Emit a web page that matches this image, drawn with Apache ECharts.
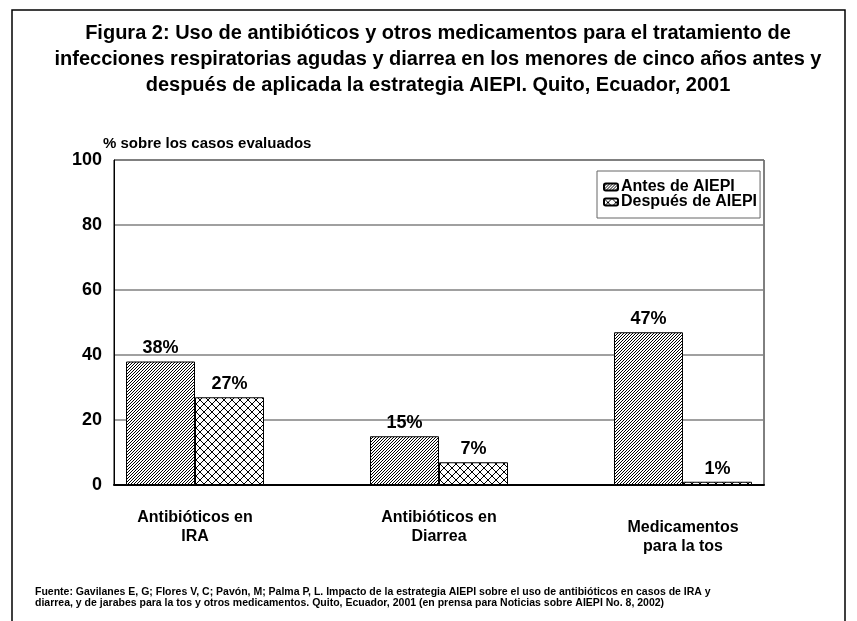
<!DOCTYPE html>
<html>
<head>
<meta charset="utf-8">
<script src="https://cdn.jsdelivr.net/npm/echarts@6/dist/echarts.min.js"></script>
<style>
  html, body { margin: 0; padding: 0; background: #fff; }
  #chart { width: 857px; height: 621px; }
</style>
</head>
<body>
<div id="chart"></div>
<script>
const categories = ["Antibióticos en\nIRA", "Antibióticos en\nDiarrea", "Medicamentos\npara la tos"];
const antes = [38, 15, 47];
const despues = [27, 7, 1];
const seriesNames = ["Antes de AIEPI", "Después de AIEPI"];
const yTicks = [0, 20, 40, 60, 80, 100];

// patrones de relleno tipo Excel
function hatch(size, pts) {
  const c = document.createElement("canvas");
  c.width = size;
  c.height = size;
  const ctx = c.getContext("2d");
  ctx.fillStyle = "#fff";
  ctx.fillRect(0, 0, size, size);
  ctx.fillStyle = "#000";
  pts.forEach((p) => ctx.fillRect(p[0], p[1], 1, 1));
  return c;
}
const diag = hatch(3, [[0, 2], [1, 1], [2, 0]]);
const cross = [];
for (let i = 0; i < 8; i++) {
  cross.push([i, i]);
  cross.push([i, 7 - i]);
}
const crossTile = hatch(8, cross);

const font = "Liberation Sans, Arial, sans-serif";
const myChart = echarts.init(document.getElementById("chart"));

function barSeries(name, values, tile) {
  return {
    name: name,
    type: "bar",
    barWidth: 69,
    barGap: "0%",
    data: values.map((v, i) => [i, v]),
    itemStyle: {
      color: { image: tile, repeat: "repeat" },
      borderColor: "#000",
      borderWidth: 1,
    },
    label: {
      show: true,
      position: "top",
      distance: 4,
      formatter: (p) => p.value[1] + "%",
      color: "#000",
      fontFamily: font,
      fontWeight: "bold",
      fontSize: 18,
    },
  };
}

const option = {
  backgroundColor: "#fff",
  animation: false,
  title: [
    {
      text: "Figura 2: Uso de antibióticos y otros medicamentos para el tratamiento de\ninfecciones respiratorias agudas y diarrea en los menores de cinco años antes y\ndespués de aplicada la estrategia AIEPI. Quito, Ecuador, 2001",
      left: 438,
      top: 20,
      padding: 0,
      textAlign: "center",
      textStyle: {
        fontFamily: font,
        fontWeight: "bold",
        fontSize: 20,
        lineHeight: 26,
        color: "#000",
      },
    },
    {
      text: "% sobre los casos evaluados",
      left: 103,
      top: 136,
      padding: 0,
      textStyle: { fontFamily: font, fontWeight: "bold", fontSize: 15, color: "#000" },
    },
    {
      text: "Fuente: Gavilanes E, G; Flores V, C; Pavón, M; Palma P, L. Impacto de la estrategia AIEPI sobre el uso de antibióticos en casos de IRA y\ndiarrea, y de jarabes para la tos y otros medicamentos. Quito, Ecuador, 2001 (en prensa para Noticias sobre AIEPI No. 8, 2002)",
      left: 35,
      top: 587,
      padding: 0,
      textStyle: { fontFamily: font, fontWeight: "bold", fontSize: 10.5, lineHeight: 11, color: "#000" },
    },
  ],
  graphic: [
    {
      type: "rect",
      shape: { x: 12, y: 10, width: 833, height: 640 },
      style: { fill: "none", stroke: "#000", lineWidth: 1.5 },
      silent: true,
    },
  ],
  legend: {
    orient: "vertical",
    left: 597,
    top: 171,
    padding: [8, 3, 8, 6],
    itemGap: -1,
    itemWidth: 14,
    itemHeight: 7,
    backgroundColor: "#fff",
    borderColor: "#666",
    borderWidth: 1,
    data: seriesNames,
    textStyle: { fontFamily: font, fontWeight: "bold", fontSize: 16, color: "#000", padding: [0, 0, 0, -2] },
  },
  grid: {
    left: 114,
    right: 93,
    top: 160,
    bottom: 136,
    show: true,
    borderColor: "#000",
    borderWidth: 1,
    backgroundColor: "#fff",
  },
  xAxis: {
    type: "value",
    min: -0.332,
    max: 2.332,
    splitLine: { show: false },
    axisTick: { show: false },
    axisLine: { show: true, lineStyle: { color: "#000", width: 2 } },
    axisLabel: {
      customValues: [0, 1, 2],
      formatter: (v) => {
        const t = categories[Math.round(v)].split("\n").map((s) => "{t|" + s + "}").join("\n");
        return Math.round(v) === 2 ? "{s|}\n" + t : t;
      },
      margin: 23,
      rich: {
        t: { fontFamily: font, fontWeight: "bold", fontSize: 16, lineHeight: 19, color: "#000" },
        s: { lineHeight: 10, height: 10, fontSize: 1 },
      },
    },
  },
  yAxis: {
    type: "value",
    min: yTicks[0],
    max: yTicks[yTicks.length - 1],
    interval: 20,
    axisTick: { show: false },
    axisLine: { show: true, onZero: false, lineStyle: { color: "#000", width: 1 } },
    splitLine: { lineStyle: { color: "#808080", width: 1.5 } },
    axisLabel: {
      margin: 12,
      color: "#000",
      fontFamily: font,
      fontWeight: "bold",
      fontSize: 18,
    },
  },
  series: [barSeries(seriesNames[0], antes, diag), barSeries(seriesNames[1], despues, crossTile)],
};
myChart.setOption(option);
</script>
</body>
</html>
